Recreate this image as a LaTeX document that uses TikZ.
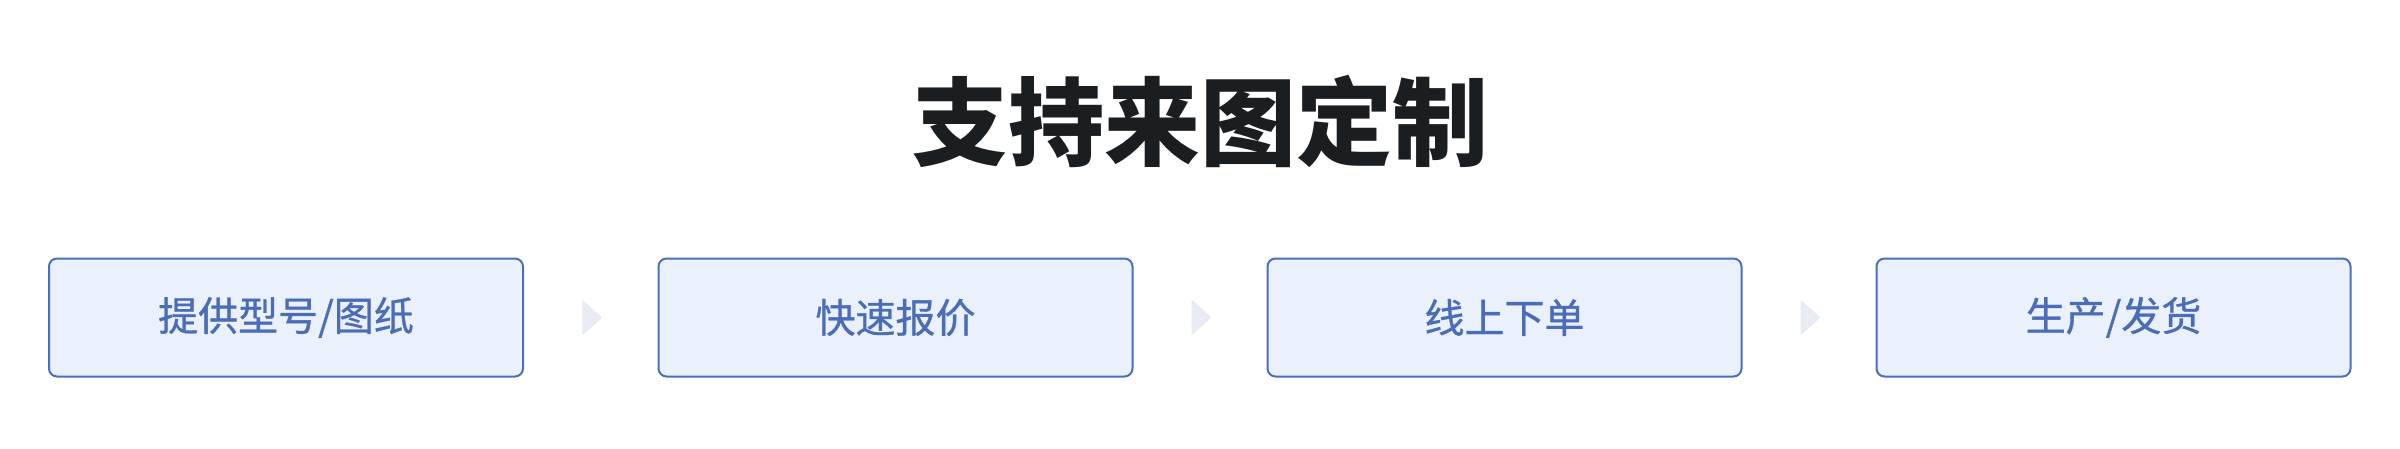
\documentclass[tikz,border=0pt]{standalone}
\usepackage{fontspec}
\newfontfamily\cjk{Noto Sans CJK SC}
\newfontfamily\cjkmed[FakeBold=0.8]{Noto Sans CJK SC}
\usetikzlibrary{calc}
\definecolor{boxfill}{HTML}{EAF0FC}
\definecolor{boxline}{HTML}{4A70BB}
\definecolor{boxtext}{HTML}{4A6DB5}
\definecolor{chevcol}{HTML}{E8EBF4}
\definecolor{titlecol}{HTML}{1B1E21}
\tikzset{
  stepbox/.style={draw=boxline, line width=2pt, fill=boxfill, rounded corners=8pt,
    minimum width=474pt, minimum height=118pt, inner sep=0pt,
    text=boxtext, font=\cjkmed\fontsize{40}{48}\selectfont},
  chev/.style={fill=chevcol, rounded corners=2pt},
  titletext/.style={text=titlecol, font=\cjk\bfseries\fontsize{96}{110}\selectfont, inner sep=0pt}
}
\begin{document}
\begin{tikzpicture}[x=1pt,y=-1pt]
\useasboundingbox[fill=white] (0,0) rectangle (2400,449);
\node[titletext] (title) at (1200,121) {支持来图定制};
\node[stepbox] (b1) at (286,317.5) {提供型号/图纸};
\node[stepbox] (b2) at (895.5,317.5) {快速报价};
\node[stepbox] (b3) at (1504.5,317.5) {线上下单};
\node[stepbox] (b4) at (2113.5,317.5) {生产/发货};
\foreach \a/\b/\m in {b1/b2/m1, b2/b3/m2, b3/b4/m3}{
  \coordinate (\m) at ($(\a.east)!0.5!(\b.west)+(1.5,0)$);
  \fill[chev] ([xshift=-10pt,yshift=18pt]\m) -- ([xshift=10pt]\m) -- ([xshift=-10pt,yshift=-18pt]\m) -- cycle;
}
\end{tikzpicture}
\end{document}
